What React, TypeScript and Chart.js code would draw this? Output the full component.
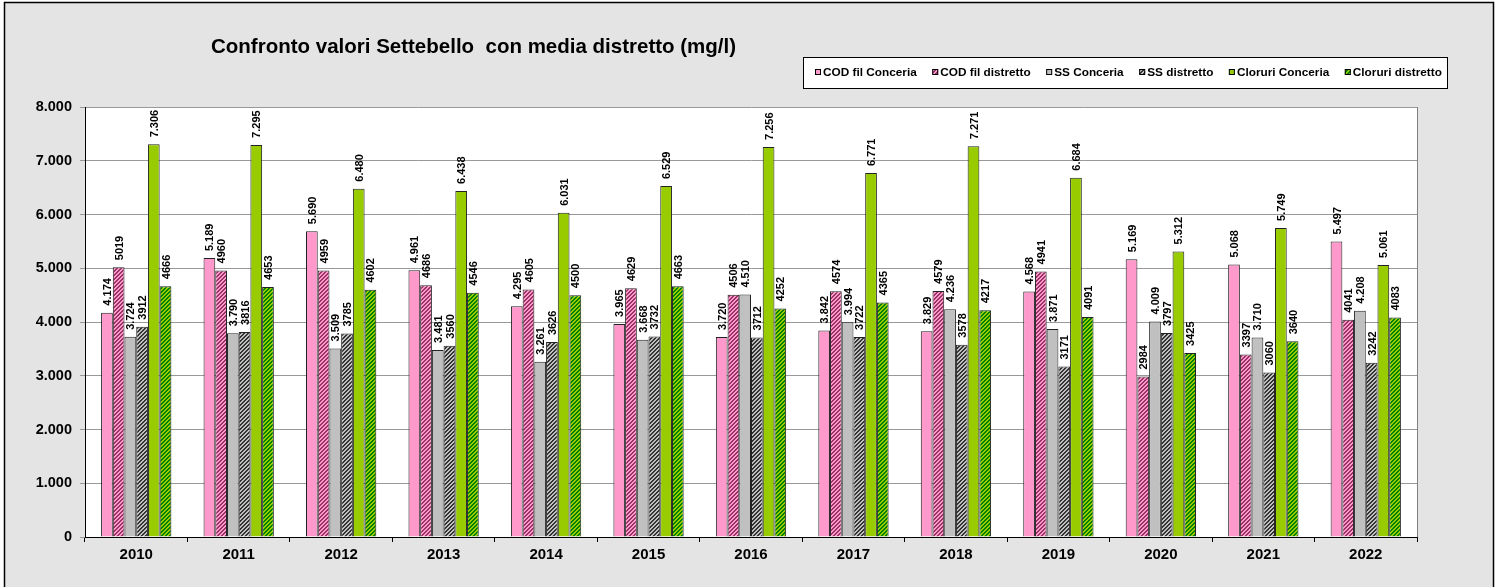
import React, { useEffect, useRef } from "react";
import { Chart, registerables } from "chart.js";

Chart.register(...registerables);

const years = ["2010", "2011", "2012", "2013", "2014", "2015", "2016", "2017", "2018", "2019", "2020", "2021", "2022"];
const seriesNames = ["COD fil Conceria", "COD fil distretto", "SS Conceria", "SS distretto", "Cloruri Conceria", "Cloruri distretto"];
const codConceria = [4174, 5189, 5690, 4961, 4295, 3965, 3720, 3842, 3829, 4568, 5169, 5068, 5497];
const codDistretto = [5019, 4960, 4959, 4686, 4605, 4629, 4506, 4574, 4579, 4941, 2984, 3397, 4041];
const ssConceria = [3724, 3790, 3509, 3481, 3261, 3668, 4510, 3994, 4236, 3871, 4009, 3710, 4208];
const ssDistretto = [3912, 3816, 3785, 3560, 3626, 3732, 3712, 3722, 3578, 3171, 3797, 3060, 3242];
const clConceria = [7306, 7295, 6480, 6438, 6031, 6529, 7256, 6771, 7271, 6684, 5312, 5749, 5061];
const clDistretto = [4666, 4653, 4602, 4546, 4500, 4663, 4252, 4365, 4217, 4091, 3425, 3640, 4083];
const seriesData = [codConceria, codDistretto, ssConceria, ssDistretto, clConceria, clDistretto];
const labelDotted = [true, false, true, false, true, false];
const yTicks = [0, 1000, 2000, 3000, 4000, 5000, 6000, 7000, 8000];

const TITLE = "Confronto valori Settebello  con media distretto (mg/l)";
const FONT = "'Liberation Sans', Arial, sans-serif";

// [solid color] or [dark stripe, light stripe]
const fills: string[][] = [
  ["#ff99cc"],
  ["#993366", "#ff99cc"],
  ["#c0c0c0"],
  ["#333333", "#c0c0c0"],
  ["#99cc00"],
  ["#008000", "#99cc00"],
];

function dotted(v: number): string {
  const s = String(Math.round(v));
  return s.replace(/\B(?=(\d{3})+(?!\d))/g, ".");
}

function makeFill(ctx: CanvasRenderingContext2D, spec: string[]): string | CanvasPattern {
  if (spec.length === 1) return spec[0];
  const c = document.createElement("canvas");
  c.width = 4;
  c.height = 4;
  const p = c.getContext("2d")!;
  p.fillStyle = spec[1];
  p.fillRect(0, 0, 4, 4);
  p.fillStyle = spec[0];
  for (let x = 0; x < 4; x++) {
    for (let y = 0; y < 4; y++) {
      if ((x + y) % 4 < 2) p.fillRect(x, y, 1, 1);
    }
  }
  return ctx.createPattern(c, "repeat")!;
}

export default function App() {
  const ref = useRef<HTMLCanvasElement>(null);

  useEffect(() => {
    document.body.style.margin = "0";
    const canvas = ref.current!;
    const ctx0 = canvas.getContext("2d")!;
    const patterns = fills.map((f) => makeFill(ctx0, f));

    const decor = {
      id: "decor",
      beforeDraw(chart: any) {
        const { ctx, chartArea: a } = chart;
        ctx.save();
        ctx.fillStyle = "#ffffff";
        ctx.fillRect(0, 0, 1500, 587);
        ctx.fillStyle = "#e4e4e4";
        ctx.fillRect(5, 3, 1488, 600);
        ctx.strokeStyle = "#000";
        ctx.lineWidth = 1.5;
        ctx.strokeRect(4.5, 2.5, 1489, 600);
        ctx.fillStyle = "#ffffff";
        ctx.fillRect(a.left, a.top, a.right - a.left, a.bottom - a.top);
        ctx.restore();
      },
      afterDatasetsDraw(chart: any) {
        const { ctx } = chart;
        ctx.save();
        ctx.fillStyle = "#000";
        ctx.font = `bold 11px ${FONT}`;
        ctx.textAlign = "left";
        ctx.textBaseline = "middle";
        chart.data.datasets.forEach((ds: any, i: number) => {
          const meta = chart.getDatasetMeta(i);
          meta.data.forEach((el: any, j: number) => {
            const v = ds.data[j];
            const txt = labelDotted[i] ? dotted(v) : String(v);
            ctx.save();
            ctx.translate(el.x + 1, el.y - 7);
            ctx.rotate(-Math.PI / 2);
            ctx.fillText(txt, 0, 0);
            ctx.restore();
          });
        });
        ctx.restore();
      },
      afterDraw(chart: any) {
        const { ctx, chartArea: a } = chart;
        ctx.save();
        // plot area right border
        ctx.strokeStyle = "#808080";
        ctx.lineWidth = 1;
        ctx.beginPath();
        ctx.moveTo(Math.round(a.right) + 0.5, a.top);
        ctx.lineTo(Math.round(a.right) + 0.5, a.bottom);
        ctx.stroke();

        // title
        ctx.fillStyle = "#000";
        ctx.font = `bold 20.5px ${FONT}`;
        ctx.textAlign = "left";
        ctx.textBaseline = "alphabetic";
        ctx.fillText(TITLE, 211, 53);

        // legend box
        ctx.fillStyle = "#ffffff";
        ctx.fillRect(803, 57, 644, 31);
        ctx.strokeStyle = "#000";
        ctx.lineWidth = 1;
        ctx.strokeRect(803.5, 57.5, 644, 31);
        ctx.font = `bold 11.8px ${FONT}`;
        ctx.textBaseline = "middle";
        let x = 815;
        seriesNames.forEach((name, i) => {
          ctx.fillStyle = patterns[i] as any;
          ctx.fillRect(x, 69, 6, 6);
          ctx.strokeStyle = "#000";
          ctx.strokeRect(x + 0.5, 69.5, 5, 5);
          ctx.fillStyle = "#000";
          ctx.fillText(name, x + 8, 73);
          x += 8 + ctx.measureText(name).width + 15.5;
        });
        ctx.restore();
      },
    };

    const chart = new Chart(canvas, {
      type: "bar",
      data: {
        labels: years,
        datasets: seriesData.map((d, i) => ({
          label: seriesNames[i],
          data: d,
          backgroundColor: patterns[i] as any,
          borderColor: "#222",
          borderWidth: 1,
          borderSkipped: "bottom" as const,
          barPercentage: 1,
          categoryPercentage: 0.686,
        })),
      },
      options: {
        responsive: false,
        animation: false,
        devicePixelRatio: 1,
        layout: { padding: { left: 5, top: 107, right: 83, bottom: 0 } },
        plugins: { legend: { display: false }, title: { display: false }, tooltip: { enabled: false } },
        scales: {
          x: {
            afterFit: (s: any) => {
              s.height = 50;
            },
            grid: { drawOnChartArea: false, drawTicks: true, tickLength: 5, color: "#000", offset: true },
            border: { color: "#000", width: 1 },
            ticks: { color: "#000", font: { family: FONT, size: 15, weight: "bold" }, padding: 4 },
          },
          y: {
            min: 0,
            max: 8000,
            afterFit: (s: any) => {
              s.width = 80;
            },
            afterBuildTicks: (s: any) => {
              s.ticks = yTicks.map((v) => ({ value: v }));
            },
            grid: { color: "#999", lineWidth: 1, tickLength: 5, drawTicks: true },
            border: { color: "#000", width: 1 },
            ticks: {
              color: "#000",
              padding: 8,
              font: { family: FONT, size: 14.5, weight: "bold" },
              callback: (v: any) => dotted(Number(v)),
            },
          },
        },
      },
      plugins: [decor],
    });
    return () => chart.destroy();
  }, []);

  return (
    <div style={{ width: 1500, height: 587 }}>
      <canvas ref={ref} width={1500} height={587} style={{ display: "block" }} />
    </div>
  );
}
